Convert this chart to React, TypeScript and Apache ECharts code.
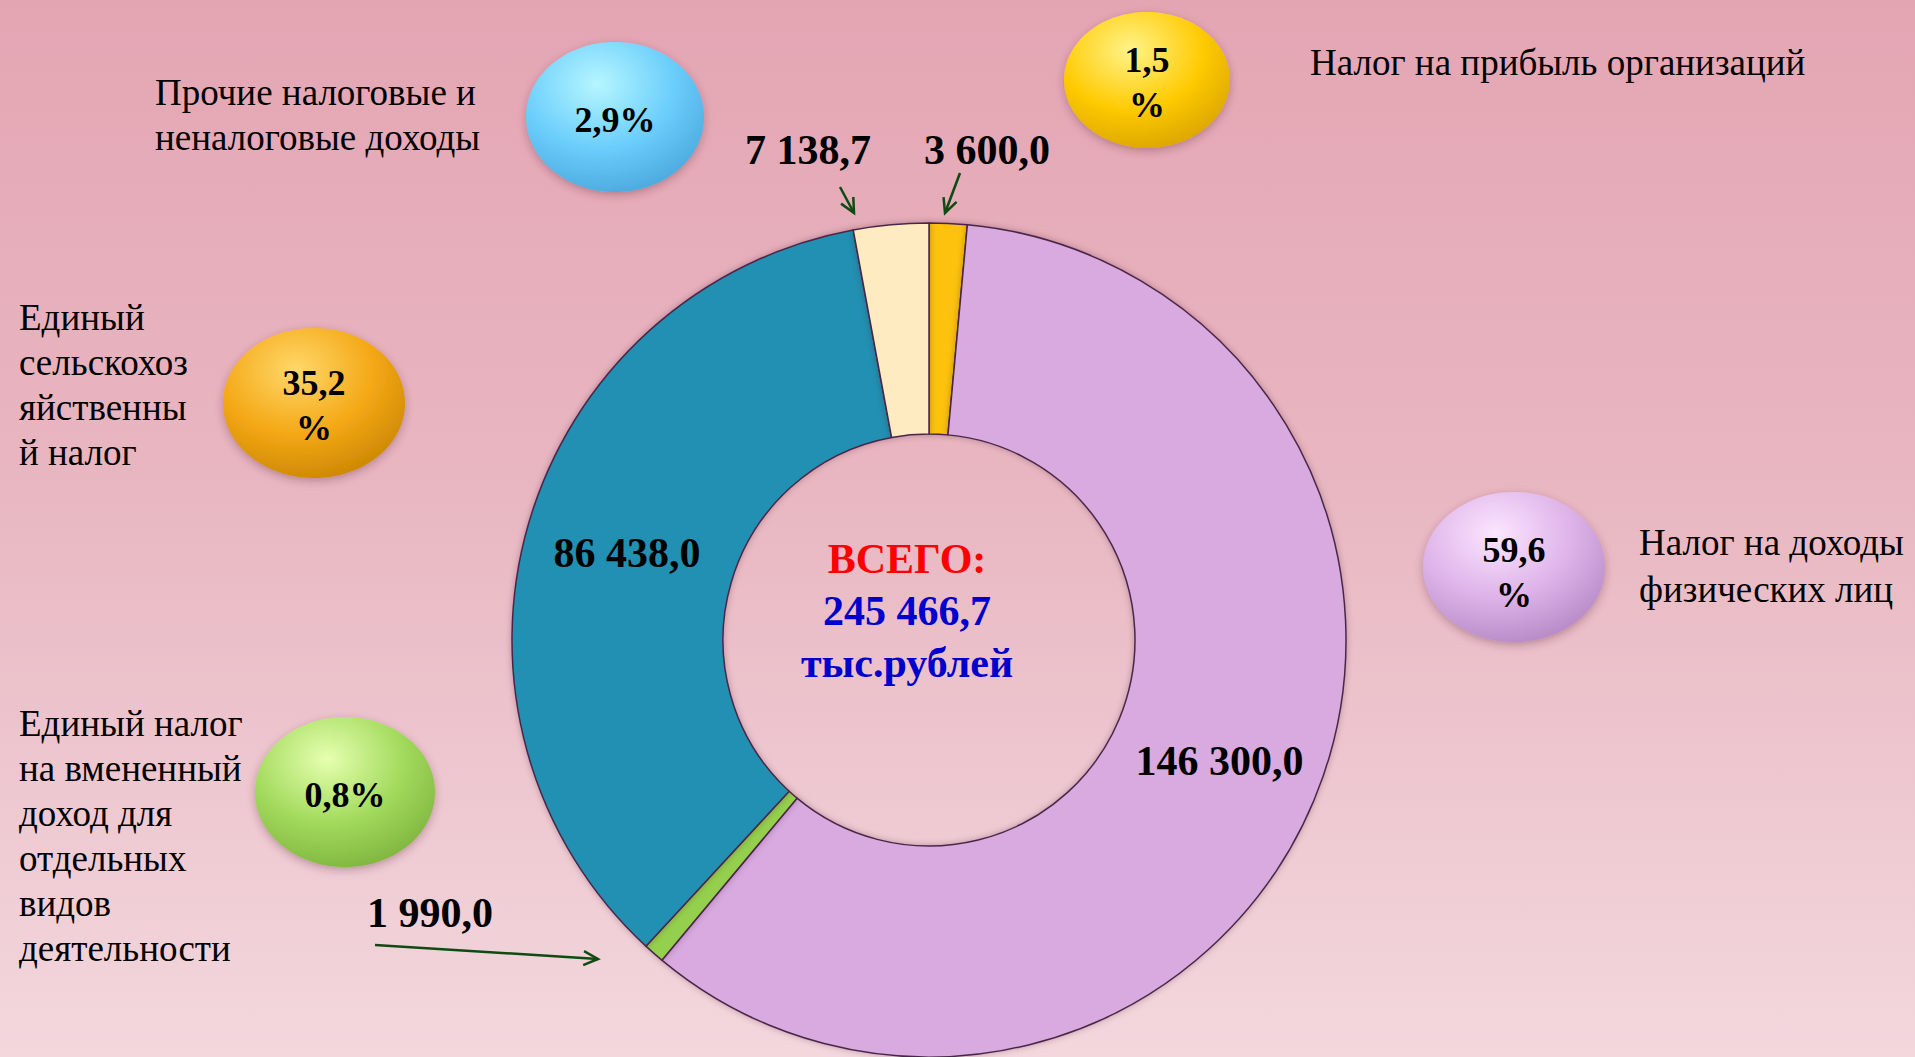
import React, { useEffect, useRef } from "react";
import * as echarts from "echarts";

// ---------- data ----------
const categories = [
  "Налог на прибыль организаций",
  "Налог на доходы\nфизических лиц",
  "Единый налог\nна вмененный\nдоход для\nотдельных\nвидов\nдеятельности",
  "Единый\nсельскохоз\nяйственны\nй налог",
  "Прочие налоговые и\nненалоговые доходы",
];
const values = [3600.0, 146300.0, 1990.0, 86438.0, 7138.7];
const percentOnNewLine = [true, true, false, true, false];
const totalTitle = "ВСЕГО:";
const unitLabel = "тыс.рублей";

// ---------- styles / layout ----------
const FONT = "'Liberation Serif', 'Times New Roman', serif";
const sliceColors = ["#FCC20F", "#D8AAE0", "#94D04E", "#2290B2", "#FFEBC1"];
const bubbleStyles = [
  { hi: "#FFF38A", base: "#FFCB05", edge: "#D9A300" },
  { hi: "#FBE6FF", base: "#DDB2E8", edge: "#B487C4" },
  { hi: "#E6FFB0", base: "#A2DA5C", edge: "#7DB33D" },
  { hi: "#FFD86A", base: "#F4A816", edge: "#C98500" },
  { hi: "#B6F6FF", base: "#6BCEFB", edge: "#4AA6DC" },
];
const bubbleLayout = [
  { cx: 1147, cy: 80, rx: 83, ry: 68, ty: 82 },
  { cx: 1514, cy: 567, rx: 91, ry: 75, ty: 572 },
  { cx: 345, cy: 792, rx: 90, ry: 75, ty: 795 },
  { cx: 314, cy: 403, rx: 91, ry: 75, ty: 405 },
  { cx: 615, cy: 117, rx: 89, ry: 75, ty: 120 },
];
const nameLayout = [
  { x: 1310, y: 62, lh: 45 },
  { x: 1639, y: 566, lh: 47 },
  { x: 19, y: 836, lh: 45 },
  { x: 19, y: 385, lh: 45 },
  { x: 155, y: 115, lh: 45 },
];
const valueLabelPos: ({ x: number; y: number } | null)[] = [
  { x: 987, y: 150 },
  null,
  { x: 430, y: 913 },
  null,
  { x: 808, y: 150 },
];
const arrows = [
  { from: [960, 173], to: [945, 213] },
  { from: [375, 945], to: [598, 959] },
  { from: [840, 187], to: [854, 213] },
];

function fmt(v: number): string {
  const [i, d] = v.toFixed(1).split(".");
  return i.replace(/\B(?=(\d{3})+(?!\d))/g, " ") + "," + d;
}

function arrowHead(from: number[], to: number[], len = 16, spread = 0.45) {
  const ang = Math.atan2(to[1] - from[1], to[0] - from[0]);
  const a1 = ang + Math.PI - spread;
  const a2 = ang + Math.PI + spread;
  return [
    [to[0] + len * Math.cos(a1), to[1] + len * Math.sin(a1)],
    [to[0], to[1]],
    [to[0] + len * Math.cos(a2), to[1] + len * Math.sin(a2)],
  ];
}

export default function App() {
  const ref = useRef<HTMLDivElement>(null);

  useEffect(() => {
    if (!ref.current) return;
    const chart = echarts.init(ref.current, undefined, { renderer: "svg" });
    const total = values.reduce((a, b) => a + b, 0);

    const graphics: any[] = [];

    // bubbles with percentages
    values.forEach((v, i) => {
      const b = bubbleLayout[i];
      const s = bubbleStyles[i];
      const pct = (v / total * 100).toFixed(1).replace(".", ",");
      graphics.push({
        type: "ellipse",
        shape: { cx: b.cx, cy: b.cy, rx: b.rx, ry: b.ry },
        style: {
          fill: {
            type: "radial",
            x: 0.4,
            y: 0.28,
            r: 0.78,
            colorStops: [
              { offset: 0, color: s.hi },
              { offset: 0.55, color: s.base },
              { offset: 1, color: s.edge },
            ],
          },
          shadowBlur: 8,
          shadowOffsetY: 3,
          shadowColor: "rgba(90,40,60,0.35)",
        },
        z: 10,
      });
      graphics.push({
        type: "text",
        x: b.cx,
        y: b.ty,
        style: {
          text: percentOnNewLine[i] ? pct + "\n%" : pct + "%",
          font: `bold 36px ${FONT}`,
          fill: "#000",
          align: "center",
          verticalAlign: "middle",
          lineHeight: 45,
        },
        z: 11,
      });
      const n = nameLayout[i];
      graphics.push({
        type: "text",
        x: n.x,
        y: n.y,
        style: {
          text: categories[i],
          font: `37px ${FONT}`,
          fill: "#000",
          align: "left",
          verticalAlign: "middle",
          lineHeight: n.lh,
        },
        z: 11,
      });
    });

    // arrows
    arrows.forEach((a) => {
      graphics.push({
        type: "line",
        shape: { x1: a.from[0], y1: a.from[1], x2: a.to[0], y2: a.to[1] },
        style: { stroke: "#0E4A12", lineWidth: 2.5 },
        z: 12,
      });
      graphics.push({
        type: "polyline",
        shape: { points: arrowHead(a.from, a.to) },
        style: { stroke: "#0E4A12", lineWidth: 2.5, fill: "none" },
        z: 12,
      });
    });

    // center total
    graphics.push({
      type: "text",
      x: 907,
      y: 611,
      style: {
        text: `{r|${totalTitle}}\n{b|${fmt(total)}}\n{b|${unitLabel}}`,
        align: "center",
        verticalAlign: "middle",
        rich: {
          r: { font: `bold 42px ${FONT}`, fill: "#FF0000", lineHeight: 52, align: "center" },
          b: { font: `bold 42px ${FONT}`, fill: "#0000CC", lineHeight: 52, align: "center" },
        },
      },
      z: 12,
    });

    chart.setOption({
      animation: false,
      backgroundColor: "transparent",
      series: [
        {
          type: "pie",
          center: [929, 640],
          radius: [206, 417],
          startAngle: 90,
          clockwise: true,
          avoidLabelOverlap: false,
          silent: true,
          data: values.map((v, i) => ({
            value: v,
            name: categories[i],
            itemStyle: { color: sliceColors[i] },
            label: { position: valueLabelPos[i] ? "outside" : "inside" },
          })),
          itemStyle: {
            borderColor: "#4A2848",
            borderWidth: 1.5,
            shadowBlur: 6,
            shadowColor: "rgba(60,20,50,0.3)",
          },
          label: {
            show: true,
            formatter: (p: any) => fmt(p.value),
            fontFamily: FONT,
            fontWeight: "bold",
            fontSize: 42,
            color: "#000",
          },
          labelLine: { show: false },
          labelLayout: (params: any) => {
            const pos = valueLabelPos[params.dataIndex];
            if (!pos) return {};
            return { x: pos.x, y: pos.y, align: "center", verticalAlign: "middle" };
          },
        },
      ],
      graphic: graphics,
    });

    return () => chart.dispose();
  }, []);

  return (
    <div
      style={{
        position: "absolute",
        left: 0,
        top: 0,
        width: 1915,
        height: 1057,
        background: "linear-gradient(to bottom, #E4A5B3 0%, #E8B6C1 45%, #F3D7DD 100%)",
      }}
    >
      <div ref={ref} style={{ width: 1915, height: 1057 }} />
    </div>
  );
}
